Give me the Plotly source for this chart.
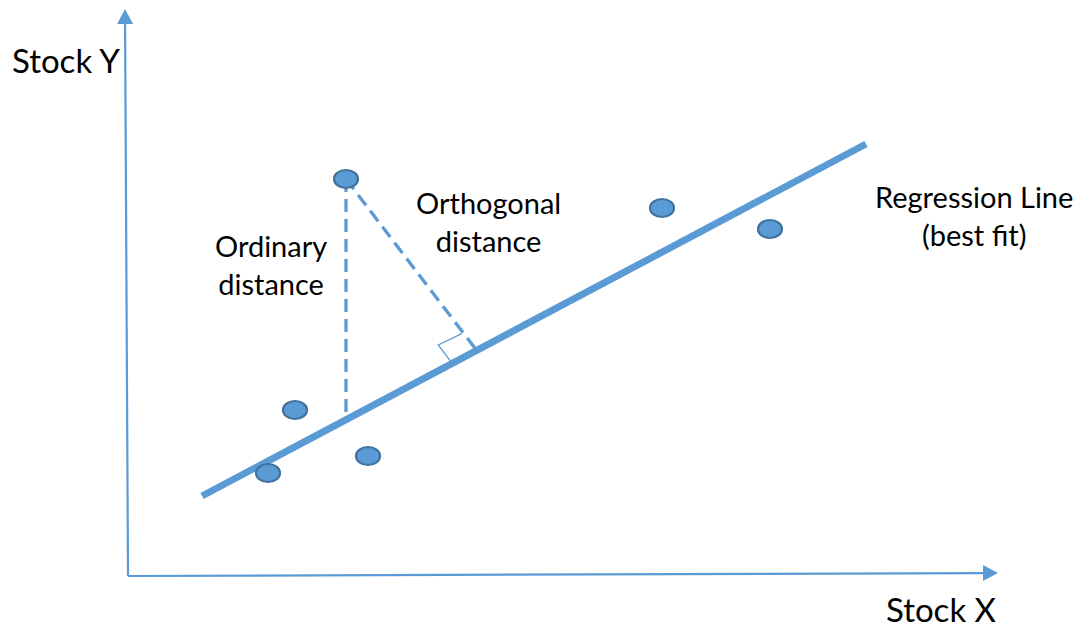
import numpy as np
import plotly.graph_objects as go

# ---- data (diagram units; origin at the axes corner) ----
point_x = [218, 167, 140, 240, 534, 642]
point_y = [397, 166, 103, 120, 368, 347]

reg_x = [74, 738]
reg_y = [80, 432]

highlight_index = 0          # the point whose distances are drawn
ortho_foot_x = 347           # where the orthogonal dashed line meets the regression line

axis_x_end = [870, 3]        # x-axis arrow tip (x, y)
axis_y_end = [-3, 567]       # y-axis arrow tip (x, y)

labels = {
    "Stock Y": (-62, 516),
    "Stock X": (813, -33),
    "Ordinary<br>distance": (143, 312),
    "Orthogonal<br>distance": (360, 355),
    "Regression Line<br>(best fit)": (846, 361),
}

BLUE = "#5B9BD5"
EDGE = "#41719C"
FONT = "Lato, Carlito, Calibri, sans-serif"

slope = (reg_y[1] - reg_y[0]) / (reg_x[1] - reg_x[0])
intercept = reg_y[0] - slope * reg_x[0]
def line_y(x):
    return slope * x + intercept

fig = go.Figure()
shapes = []

# axes with arrowheads
def arrow_line(x0, y0, x1, y1, head_len=15, head_w=8):
    L = np.hypot(x1 - x0, y1 - y0)
    shapes.append(dict(type="line", x0=x0, y0=y0,
                       x1=x1 - (x1 - x0) * head_len / L, y1=y1 - (y1 - y0) * head_len / L,
                       line=dict(color=BLUE, width=2.2), layer="below"))
    d = np.array([x1 - x0, y1 - y0], float) / L
    n = np.array([-d[1], d[0]])
    tip = np.array([x1, y1], float)
    b = tip - d * head_len
    p1 = b + n * head_w
    p2 = b - n * head_w
    shapes.append(dict(type="path",
                       path=f"M {tip[0]},{tip[1]} L {p1[0]},{p1[1]} L {p2[0]},{p2[1]} Z",
                       fillcolor=BLUE, line=dict(color=BLUE, width=0)))

arrow_line(0, 0, axis_y_end[0], axis_y_end[1])
arrow_line(0, 0, axis_x_end[0], axis_x_end[1])

# regression line
fig.add_trace(go.Scatter(x=reg_x, y=[line_y(v) for v in reg_x], mode="lines",
                         line=dict(color=BLUE, width=7), hoverinfo="skip", showlegend=False))

# distances
px, py = point_x[highlight_index], point_y[highlight_index]
fig.add_trace(go.Scatter(x=[px, px], y=[py, line_y(px) + 3], mode="lines",
                         line=dict(color=BLUE, width=3.3, dash="13px,7px"),
                         hoverinfo="skip", showlegend=False))
fx, fy = ortho_foot_x, line_y(ortho_foot_x)
fig.add_trace(go.Scatter(x=[px, fx], y=[py, fy + 3], mode="lines",
                         line=dict(color=BLUE, width=3.3, dash="13px,7px"),
                         hoverinfo="skip", showlegend=False))

# right-angle marker
dl = np.array([-(reg_x[1] - reg_x[0]), -(reg_y[1] - reg_y[0])], float)
dl /= np.hypot(*dl)
dd = np.array([px - fx, py - fy], float)
dd /= np.hypot(*dd)
F = np.array([fx, fy])
A = F + dl * 28 + np.array([0, 3.5])
B = A + dd * 20
C = F + dd * 22
fig.add_trace(go.Scatter(x=[A[0], B[0], C[0]], y=[A[1], B[1], C[1]], mode="lines",
                         line=dict(color=BLUE, width=1.3), hoverinfo="skip", showlegend=False))

# points as ellipses
for x, y in zip(point_x, point_y):
    shapes.append(dict(type="circle", x0=x - 12, x1=x + 12, y0=y - 9, y1=y + 9,
                       fillcolor=BLUE, line=dict(color=EDGE, width=2.2), layer="above"))

annotations = []
for text, (x, y) in labels.items():
    size = 33 if text.startswith("Stock") else 29
    annotations.append(dict(x=x, y=y, text=text, showarrow=False,
                            font=dict(family=FONT, size=size, color="#000000"),
                            xanchor="center", yanchor="middle", align="center"))

# the page body has an 8px margin, so the figure is 8px smaller and shifted
fig.update_layout(
    width=1073, height=622, margin=dict(l=0, r=0, t=0, b=0),
    paper_bgcolor="white", plot_bgcolor="white",
    xaxis=dict(range=[-120, 953], visible=False, fixedrange=True),
    yaxis=dict(range=[-54, 568], visible=False, fixedrange=True),
    shapes=shapes, annotations=annotations, showlegend=False,
)
fig.write_html("out.html")
